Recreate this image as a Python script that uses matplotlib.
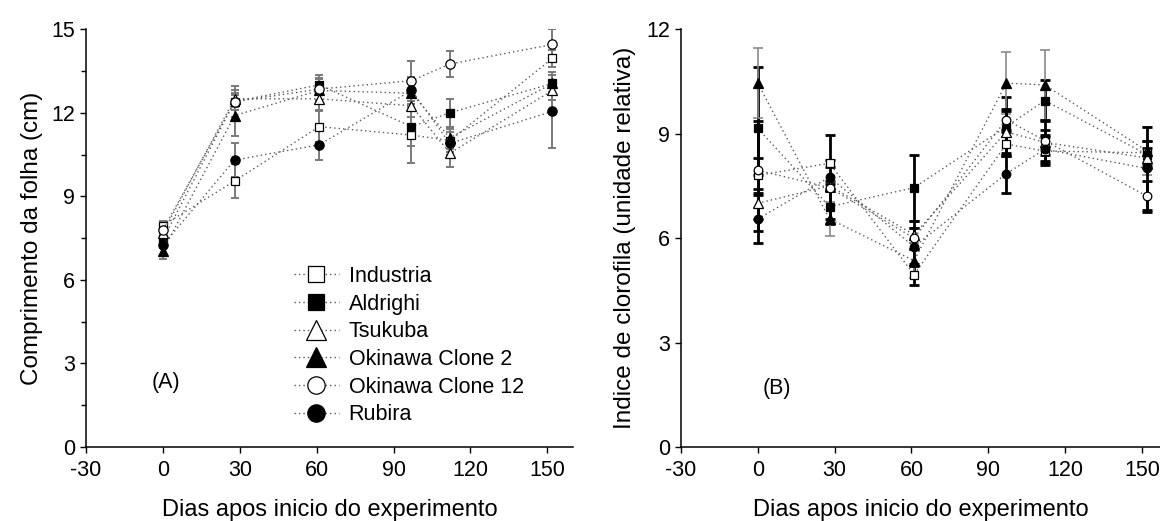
"""Leaf length and chlorophyll index of six cultivars over the experiment."""

import matplotlib

matplotlib.use("Agg")
import matplotlib.pyplot as plt
from matplotlib.lines import Line2D
from matplotlib.ticker import MultipleLocator

plt.rcParams["font.family"] = ["Liberation Sans", "DejaVu Sans"]
plt.rcParams["font.size"] = 15.5
plt.rcParams["axes.unicode_minus"] = False

DAYS = [0, 28, 61, 97, 112, 152]
X_TICKS = [-30, 0, 30, 60, 90, 120, 150]
CULTIVARS = [
    "Industria",
    "Aldrighi",
    "Tsukuba",
    "Okinawa Clone 2",
    "Okinawa Clone 12",
    "Rubira",
]

# leaf length (cm), mean and error per sampling day
LENGTH = {
    "Industria": [7.95, 9.55, 11.5, 11.2, 11.0, 13.95],
    "Aldrighi": [7.45, 12.4, 13.0, 11.5, 12.0, 13.05],
    "Tsukuba": [7.7, 12.5, 12.5, 12.25, 10.55, 12.8],
    "Okinawa Clone 2": [7.05, 11.9, 12.8, 12.7, 11.1, 13.05],
    "Okinawa Clone 12": [7.8, 12.4, 12.85, 13.15, 13.75, 14.45],
    "Rubira": [7.25, 10.3, 10.85, 12.8, 10.9, 12.05],
}
LENGTH_ERR = {
    "Industria": [0.15, 0.62, 0.55, 0.4, 0.4, 0.3],
    "Aldrighi": [0.3, 0.3, 0.35, 1.3, 0.5, 0.3],
    "Tsukuba": [0.2, 0.3, 0.4, 0.4, 0.5, 0.35],
    "Okinawa Clone 2": [0.3, 0.75, 0.4, 0.5, 0.4, 0.4],
    "Okinawa Clone 12": [0.25, 0.55, 0.4, 0.72, 0.47, 0.55],
    "Rubira": [0.4, 0.6, 0.55, 0.5, 0.4, 1.3],
}

# chlorophyll index (relative units)
CHLORO = {
    "Industria": [7.8, 8.15, 4.95, 8.7, 8.5, 8.45],
    "Aldrighi": [9.15, 6.9, 7.45, 9.2, 9.95, 8.4],
    "Tsukuba": [7.0, 7.5, 6.1, 9.05, 8.75, 8.3],
    "Okinawa Clone 2": [10.45, 6.55, 5.35, 10.45, 10.4, 8.5],
    "Okinawa Clone 12": [7.95, 7.45, 6.0, 9.4, 8.8, 7.2],
    "Rubira": [6.55, 7.75, 5.75, 7.85, 8.55, 8.0],
}
CHLORO_ERR = {
    "Industria": [0.5, 0.1, 0.3, 0.35, 0.4, 0.35],
    "Aldrighi": [1.75, 0.5, 0.95, 0.85, 0.6, 0.4],
    "Tsukuba": [0.8, 0.15, 0.4, 0.6, 0.35, 0.3],
    "Okinawa Clone 2": [1.0, 0.5, 0.5, 0.9, 1.0, 0.7],
    "Okinawa Clone 12": [1.4, 0.1, 0.3, 0.3, 0.6, 0.45],
    "Rubira": [0.7, 1.2, 0.55, 0.55, 0.4, 1.2],
}

MARKERS = {
    "Industria": ("s", "white"),
    "Aldrighi": ("s", "black"),
    "Tsukuba": ("^", "white"),
    "Okinawa Clone 2": ("^", "black"),
    "Okinawa Clone 12": ("o", "white"),
    "Rubira": ("o", "black"),
}
# squares read larger than circles/triangles at equal markersize
MARKER_SCALE = {"s": 0.87, "o": 1.0, "^": 1.15}
DOTTED = (0, (1, 2.2))
LINE_GREY = "#5a5a5a"


def series_style(name, ms):
    marker, face = MARKERS[name]
    return dict(
        linestyle=DOTTED,
        color=LINE_GREY,
        linewidth=1.0,
        marker=marker,
        markersize=ms * MARKER_SCALE[marker],
        markerfacecolor=face,
        markeredgecolor="black",
        markeredgewidth=0.9,
    )


def style_axis(axis, ymax, minor):
    for side in ("top", "right"):
        axis.spines[side].set_visible(False)
    for side in ("left", "bottom"):
        axis.spines[side].set_linewidth(1.1)
    axis.set_ylim(0, ymax)
    axis.yaxis.set_major_locator(MultipleLocator(3))
    if minor:
        axis.yaxis.set_minor_locator(MultipleLocator(1.5))
    axis.set_xticks(X_TICKS)
    axis.tick_params(which="major", direction="out", length=4.5, width=1.0)
    axis.tick_params(which="minor", direction="out", length=3.5, width=1.0)
    axis.tick_params(axis="y", which="both", right=False)
    axis.tick_params(axis="x", which="both", top=False, pad=5)


def draw_panel(axis, values, errors, ms, cap, err_style):
    for name in CULTIVARS:
        color, lw = err_style(name)
        axis.errorbar(
            DAYS,
            values[name],
            yerr=errors[name],
            fmt="none",
            ecolor=color,
            elinewidth=lw,
            capsize=cap,
            capthick=lw,
            zorder=2,
        )
        axis.plot(DAYS, values[name], zorder=3, **series_style(name, ms))


fig = plt.figure(figsize=(11.6, 5.21), dpi=100)
ax_a = fig.add_axes([0.0741, 0.142, 0.4198, 0.802])
ax_b = fig.add_axes([0.587, 0.142, 0.413, 0.802])

draw_panel(ax_a, LENGTH, LENGTH_ERR, 6.7, 3, lambda name: ("#7a7a7a", 1.4))
draw_panel(
    ax_b,
    CHLORO,
    CHLORO_ERR,
    6.2,
    3.8,
    lambda name: ("#8a8a8a", 1.2) if name == "Okinawa Clone 2" else ("black", 2.0),
)

style_axis(ax_a, 15, True)
ax_a.set_xlim(-30, 160)
ax_a.set_ylabel("Comprimento da folha (cm)", fontsize=17.5, labelpad=6)
ax_a.set_xlabel("Dias apos inicio do experimento", fontsize=17)
ax_a.xaxis.set_label_coords(0.5, -0.125)
ax_a.text(-4.3, 2.3, "(A)", fontsize=15.5, va="center")

style_axis(ax_b, 12, False)
ax_b.set_xlim(-30, 157)
ax_b.set_ylabel("Indice de clorofila (unidade relativa)", fontsize=17.5, labelpad=7)
ax_b.set_xlabel("Dias apos inicio do experimento", fontsize=17)
ax_b.xaxis.set_label_coords(0.5, -0.125)
ax_b.text(1.7, 1.69, "(B)", fontsize=15.5, va="center")

legend_handles = [Line2D([], [], **series_style(name, 12.5)) for name in CULTIVARS]
ax_a.legend(
    legend_handles,
    CULTIVARS,
    loc="upper left",
    bbox_to_anchor=(0.4045, 0.459),
    frameon=False,
    fontsize=15.5,
    handlelength=2.1,
    handletextpad=0.45,
    labelspacing=0.31,
    borderpad=0.0,
)

fig.savefig("out.png", dpi=100)
